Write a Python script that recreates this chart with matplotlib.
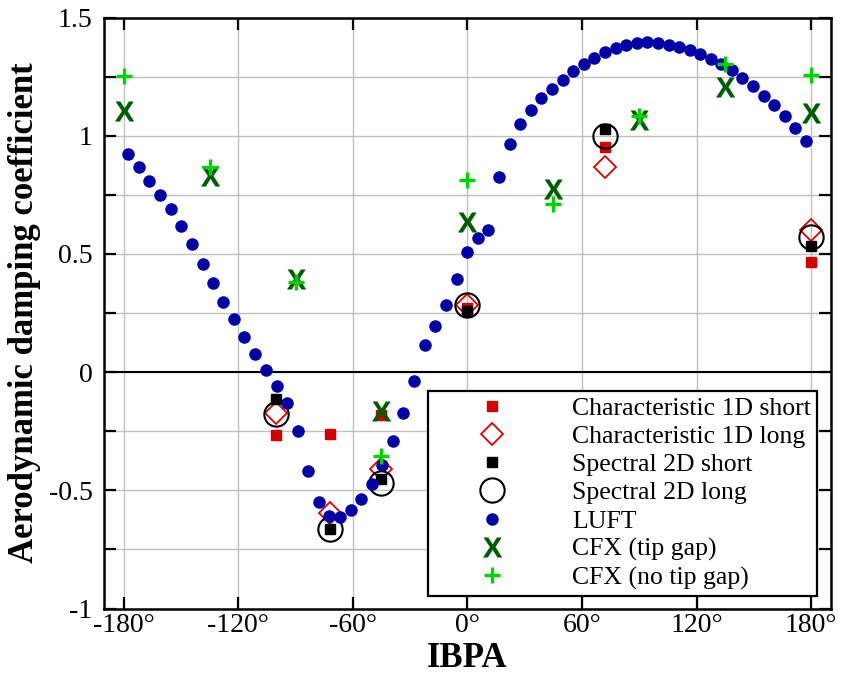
#!/usr/bin/env python3

import matplotlib
matplotlib.use("Agg")
import matplotlib.pyplot as plt
from matplotlib.font_manager import FontProperties
from matplotlib.path import Path
from matplotlib.textpath import TextPath

# LUFT (blue dots)
luft_ibpa = [-177.6, -171.9, -166.5, -160.9, -155.3, -149.8, -144.2, -138.6, -133.0, -127.7,
             -122.2, -116.8, -111.2, -105.6, -99.8, -94.3, -88.7, -83.3, -77.9, -72.3,
             -66.7, -61.1, -55.6, -50.0, -44.6, -39.1, -33.6, -28.0, -22.2, -16.8,
             -11.4, -5.7, -0.1, 5.3, 10.9, 16.5, 22.1, 27.6, 33.1, 38.6,
             44.2, 49.8, 55.4, 60.8, 66.4, 71.9, 77.5, 82.9, 88.5, 94.1,
             99.7, 105.3, 110.8, 116.4, 121.8, 127.3, 132.7, 138.3, 143.8, 149.4,
             155.0, 160.5, 166.1, 171.7, 177.1]
luft_val = [0.924, 0.868, 0.810, 0.751, 0.689, 0.619, 0.543, 0.459, 0.376, 0.297,
            0.223, 0.148, 0.076, 0.008, -0.059, -0.129, -0.249, -0.420, -0.551, -0.609,
            -0.613, -0.585, -0.537, -0.472, -0.392, -0.292, -0.174, -0.036, 0.113, 0.195,
            0.283, 0.392, 0.509, 0.566, 0.603, 0.824, 0.965, 1.051, 1.111, 1.158,
            1.197, 1.236, 1.274, 1.305, 1.331, 1.353, 1.372, 1.386, 1.393, 1.396,
            1.393, 1.386, 1.376, 1.362, 1.346, 1.326, 1.303, 1.277, 1.245, 1.210,
            1.170, 1.130, 1.083, 1.034, 0.979]

# 1D / 2D solver results
solver_ibpa = [-100, -72, -45, 0, 72, 180]
char1d_short = [-0.266, -0.263, -0.182, 0.270, 0.951, 0.467]
char1d_long = [-0.174, -0.598, -0.410, 0.286, 0.870, 0.603]
spec2d_short = [-0.112, -0.664, -0.454, 0.258, 1.028, 0.532]
spec2d_long = [-0.175, -0.664, -0.467, 0.282, 0.997, 0.572]

# CFX results
cfx_ibpa = [-180, -135, -90, -45, 0, 45, 90, 135, 180]
cfx_tip = [1.103, 0.828, 0.392, -0.164, 0.634, 0.775, 1.065, 1.206, 1.098]
cfx_notip = [1.253, 0.870, 0.380, -0.354, 0.814, 0.711, 1.085, 1.304, 1.258]

xticks = [-180, -120, -60, 0, 60, 120, 180]
xticklabels = ["-180°", "-120°", "-60°", "0°", "60°", "120°", "180°"]
yticks = [-1, -0.5, 0, 0.5, 1, 1.5]
yticklabels = ["-1", "-0.5", "0", "0.5", "1", "1.5"]


def x_marker():
    # bold sans "X" glyph, centred, used as a marker
    tp = TextPath((0, 0), "X", prop=FontProperties(family="Liberation Sans",
                                                   weight="bold"))
    verts = tp.vertices.copy()
    verts -= (verts.min(axis=0) + verts.max(axis=0)) / 2
    return Path(verts, tp.codes)


def main():
    plt.rcParams["font.family"] = ["Liberation Serif", "DejaVu Serif"]

    fig = plt.figure(figsize=(8.43, 6.79), dpi=100)
    ax = fig.add_axes([0.1228, 0.1038, 0.8630, 0.8703])

    ax.plot(solver_ibpa, char1d_short, ls="none", marker="s", ms=7.5,
            color="#d40000", label="Characteristic 1D short")
    ax.plot(solver_ibpa, char1d_long, ls="none", marker="D", ms=11,
            mfc="none", mec="#e00000", mew=1.3, label="Characteristic 1D long")
    ax.plot(solver_ibpa, spec2d_short, ls="none", marker="s", ms=7.5,
            color="black", label="Spectral 2D short")
    ax.plot(solver_ibpa, spec2d_long, ls="none", marker="o", ms=17.5,
            mfc="none", mec="black", mew=1.5, label="Spectral 2D long")
    ax.plot(luft_ibpa, luft_val, ls="none", marker="o", ms=8,
            color="#0000a8", label="LUFT")
    ax.plot(cfx_ibpa, cfx_tip, ls="none", marker=x_marker(), ms=14, mew=0.3,
            color="#005c00", label="CFX (tip gap)")
    ax.plot(cfx_ibpa, cfx_notip, ls="none", marker="+", ms=11, mew=2.4,
            color="#00d400", label="CFX (no tip gap)")

    ax.axhline(0, color="black", lw=1.5, zorder=1)

    ax.set_xlim(-190.5, 190.3)
    ax.set_ylim(-1, 1.5)
    ax.set_xticks(xticks)
    ax.set_xticklabels(xticklabels)
    ax.set_yticks(yticks)
    ax.set_yticklabels(yticklabels)
    ax.set_yticks([-0.75, -0.25, 0.25, 0.75, 1.25], minor=True)
    ax.grid(True, which="both", color="#c0c0c0", lw=1.0, zorder=0)
    ax.set_axisbelow(True)

    ax.tick_params(which="both", direction="in", length=8.5, width=1.6,
                   top=True, right=True, labelsize=20, color="black")
    ax.tick_params(axis="x", pad=3)
    ax.tick_params(axis="y", pad=8)
    for sp in ax.spines.values():
        sp.set_linewidth(1.8)

    fig.text(0.0285, 0.539, "Aerodynamic damping coefficient", rotation=90,
             ha="center", va="center", fontsize=25, fontweight="bold")
    fig.text(0.554, 0.0295, "IBPA", ha="center", va="center",
             fontsize=25, fontweight="bold")

    leg = ax.legend(loc="lower left", bbox_to_anchor=(0.446, 0.021),
                    fontsize=18.5, frameon=True, fancybox=False, borderpad=0.25,
                    borderaxespad=0, labelspacing=0.2, handlelength=4.5,
                    handletextpad=0.85, numpoints=1)
    leg.get_frame().set_edgecolor("black")
    leg.get_frame().set_linewidth(1.6)
    leg.get_frame().set_alpha(1)

    fig.savefig("out.png", dpi=100)


if __name__ == "__main__":
    main()
